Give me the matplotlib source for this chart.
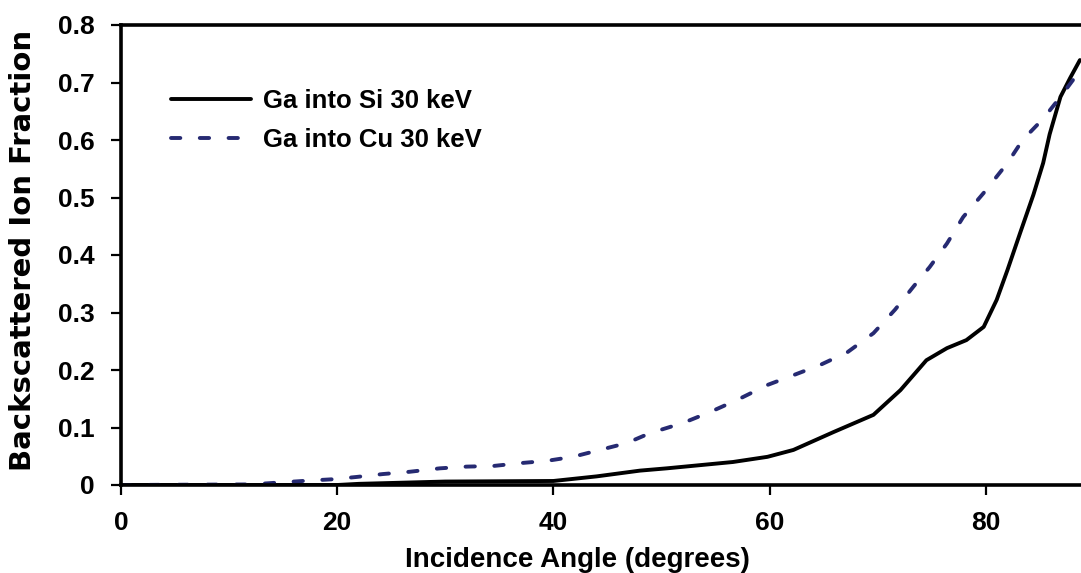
import numpy as np
import matplotlib
matplotlib.use("Agg")
import matplotlib.pyplot as plt

# incidence angle (deg) and backscattered fraction
angle_si = [0, 10, 20, 22, 30, 40, 44, 48, 50.5, 56.6, 59.8, 62.2, 65.9, 69.6,
            72.1, 74.5, 76.4, 78.2, 79.8, 81, 82, 83.2, 84.4, 85.3, 85.9, 86.9,
            87.8, 88.7]
frac_si = [0, 0, 0, 0.002, 0.006, 0.007, 0.015, 0.025, 0.029, 0.04, 0.049,
           0.061, 0.092, 0.122, 0.165, 0.217, 0.238, 0.252, 0.275, 0.322, 0.374,
           0.44, 0.505, 0.56, 0.61, 0.675, 0.708, 0.739]

angle_cu = [0, 12, 14.4, 16.8, 19.6, 21.8, 24.2, 26.7, 29.5, 32, 34.4, 36.9,
            39.4, 41.8, 44.3, 46.8, 48.9, 52, 54.5, 57, 59.8, 62.2, 64.7, 67.2,
            69.6, 71.6, 73.3, 74.8, 76.4, 77.9, 79.8, 82, 83.4, 85.3, 86.9, 88.6]
frac_cu = [0, 0.001, 0.004, 0.007, 0.01, 0.014, 0.019, 0.023, 0.029, 0.032,
           0.033, 0.038, 0.042, 0.049, 0.061, 0.073, 0.09, 0.108, 0.127, 0.148,
           0.174, 0.191, 0.209, 0.231, 0.264, 0.305, 0.345, 0.379, 0.42, 0.466,
           0.508, 0.56, 0.6, 0.637, 0.675, 0.718]

labels = ["Ga into Si 30 keV", "Ga into Cu 30 keV"]
xticks = [0, 20, 40, 60, 80]
yticks = [0, 0.1, 0.2, 0.3, 0.4, 0.5, 0.6, 0.7, 0.8]

plt.rcParams['font.family'] = ['Liberation Sans', 'DejaVu Sans']
plt.rcParams['font.weight'] = 'bold'

fig = plt.figure(figsize=(10.81, 5.73), dpi=100)
ax = fig.add_axes([121/1081, 88/573, 1 - 121/1081, 460/573])

ax.plot(angle_si, frac_si, color="k", lw=2.8, label=labels[0],
        solid_capstyle="round", solid_joinstyle="round")
ax.plot(angle_cu, frac_cu, color="#262a72", lw=2.8, dashes=(2.4, 5.0),
        dash_capstyle="round", label=labels[1])

ax.set_xlim(0, 88.8)
ax.set_ylim(0, 0.8)
ax.set_xticks(xticks)
ax.set_yticks(yticks)
ax.set_yticklabels(["0" if v == 0 else f"{v:.1f}" for v in yticks])
ax.tick_params(direction="out", length=7, width=1.6, labelsize=19, pad=12)
for lab in ax.get_xticklabels() + ax.get_yticklabels():
    lab.set_fontweight("bold")

for s in ["left", "bottom", "top"]:
    ax.spines[s].set_linewidth(2.6)
ax.spines["right"].set_visible(False)

ax.set_xlabel("Incidence Angle (degrees)", fontsize=20, fontweight="bold")
ax.xaxis.set_label_coords((577-121)/960, -0.135)
ax.set_ylabel("Backscattered Ion Fraction", fontsize=21, fontweight="bold",
              family="DejaVu Sans")
ax.yaxis.set_label_coords(-0.087, 0.51)

ax.legend(loc="upper left", bbox_to_anchor=(0.052, 0.86), frameon=False,
          fontsize=18.5, handlelength=3.1, handletextpad=0.5,
          labelspacing=0.55, borderpad=0, borderaxespad=0)

fig.savefig("out.png", dpi=100)
